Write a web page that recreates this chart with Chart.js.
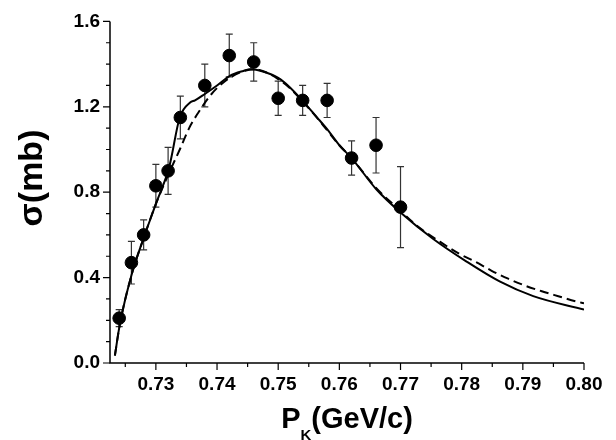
<!DOCTYPE html>
<html><head><meta charset="utf-8">
<script src="https://cdn.jsdelivr.net/npm/chart.js@4.4.0/dist/chart.umd.min.js"></script>
<style>html,body{margin:0;padding:0;background:#fff}canvas{display:block}</style>
</head><body>
<canvas id="c" width="616" height="440"></canvas>
<script>
// Measured data points (P_K in GeV/c, sigma in mb) with symmetric errors
const pointX = [0.724, 0.726, 0.728, 0.730, 0.732, 0.734, 0.738, 0.742, 0.746, 0.750, 0.754, 0.758, 0.762, 0.766, 0.770];
const pointY = [0.21, 0.47, 0.60, 0.83, 0.90, 1.15, 1.30, 1.44, 1.41, 1.24, 1.23, 1.23, 0.96, 1.02, 0.73];
const pointErr = [0.04, 0.10, 0.07, 0.10, 0.11, 0.10, 0.10, 0.10, 0.09, 0.08, 0.07, 0.08, 0.08, 0.13, 0.19];

// Solid theory curve
const solidX = [0.7233, 0.7241, 0.7260, 0.7280, 0.7300, 0.7322, 0.7339, 0.7356, 0.7364, 0.7380, 0.7400, 0.7421, 0.7443, 0.7455, 0.7475, 0.7500, 0.7518, 0.7540, 0.7563, 0.7580, 0.7600, 0.7620, 0.7660, 0.7700, 0.7753, 0.7808, 0.7862, 0.7917, 0.8000];
const solidY = [0.035, 0.18, 0.41, 0.585, 0.745, 0.92, 1.15, 1.22, 1.23, 1.26, 1.30, 1.345, 1.368, 1.376, 1.365, 1.335, 1.294, 1.228, 1.152, 1.095, 1.02, 0.96, 0.815, 0.705, 0.582, 0.475, 0.382, 0.313, 0.25];

// Dashed theory curve
const dashedX = [0.7233, 0.7241, 0.7260, 0.7280, 0.7300, 0.7320, 0.7340, 0.7354, 0.7369, 0.7391, 0.7413, 0.7437, 0.7460, 0.7480, 0.7500, 0.7520, 0.7540, 0.7563, 0.7580, 0.7600, 0.7620, 0.7660, 0.7700, 0.7726, 0.7765, 0.7795, 0.7822, 0.7849, 0.7876, 0.7904, 0.7931, 0.7958, 0.7988, 0.8000];
const dashedY = [0.035, 0.18, 0.41, 0.585, 0.745, 0.88, 1.006, 1.098, 1.171, 1.26, 1.32, 1.36, 1.376, 1.362, 1.33, 1.285, 1.225, 1.15, 1.09, 1.02, 0.96, 0.82, 0.713, 0.645, 0.567, 0.513, 0.475, 0.432, 0.395, 0.362, 0.336, 0.313, 0.288, 0.28];

// Ticks
const xTickValues = [0.725, 0.730, 0.735, 0.740, 0.745, 0.750, 0.755, 0.760, 0.765, 0.770, 0.775, 0.780, 0.785, 0.790, 0.795, 0.800];
const xLabelValues = [0.73, 0.74, 0.75, 0.76, 0.77, 0.78, 0.79, 0.80];
const xLabelTexts = ['0.73', '0.74', '0.75', '0.76', '0.77', '0.78', '0.79', '0.80'];
const yTickValues = [0.0, 0.1, 0.2, 0.3, 0.4, 0.5, 0.6, 0.7, 0.8, 0.9, 1.0, 1.1, 1.2, 1.3, 1.4, 1.5, 1.6];
const yLabelValues = [0.0, 0.4, 0.8, 1.2, 1.6];
const yLabelTexts = ['0.0', '0.4', '0.8', '1.2', '1.6'];

const xTitleMain = 'P';
const xTitleSub = 'K';
const xTitleRest = '(GeV/c)';
const yTitle = 'σ(mb)';

const FONT = '"Liberation Sans", Arial, sans-serif';

function labelFor(v, vals, texts) {
  for (let i = 0; i < vals.length; i++) if (Math.abs(v - vals[i]) < 1e-6) return texts[i];
  return '';
}

const decorPlugin = {
  id: 'decor',
  beforeDatasetsDraw(chart) {
    const {ctx, scales: {x, y}} = chart;
    ctx.save();
    ctx.strokeStyle = '#333';
    ctx.lineWidth = 1.2;
    for (let i = 0; i < pointX.length; i++) {
      const px = x.getPixelForValue(pointX[i]);
      const t = y.getPixelForValue(pointY[i] + pointErr[i]);
      const b = y.getPixelForValue(pointY[i] - pointErr[i]);
      ctx.beginPath();
      ctx.moveTo(px, t); ctx.lineTo(px, b);
      ctx.moveTo(px - 3.5, t); ctx.lineTo(px + 3.5, t);
      ctx.moveTo(px - 3.5, b); ctx.lineTo(px + 3.5, b);
      ctx.stroke();
    }
    ctx.restore();
  },
  afterDraw(chart) {
    const {ctx, chartArea: a, scales: {x, y}} = chart;
    ctx.save();
    ctx.strokeStyle = '#000';
    ctx.lineWidth = 1.5;
    // axis lines
    ctx.beginPath();
    ctx.moveTo(a.left, a.top); ctx.lineTo(a.left, a.bottom); ctx.lineTo(a.right, a.bottom);
    ctx.stroke();
    // ticks
    ctx.lineWidth = 1.2;
    ctx.beginPath();
    xTickValues.forEach(v => {
      const px = x.getPixelForValue(v);
      const len = labelFor(v, xLabelValues, xLabelTexts) ? 7 : 4;
      ctx.moveTo(px, a.bottom); ctx.lineTo(px, a.bottom + len);
    });
    yTickValues.forEach(v => {
      const py = y.getPixelForValue(v);
      const len = labelFor(v, yLabelValues, yLabelTexts) ? 7 : 4;
      ctx.moveTo(a.left, py); ctx.lineTo(a.left - len, py);
    });
    ctx.stroke();
    // titles
    ctx.fillStyle = '#000';
    ctx.textBaseline = 'alphabetic';
    const fMain = 'bold 29px ' + FONT;
    const fSub = 'bold 15px ' + FONT;
    ctx.font = fMain; const wP = ctx.measureText(xTitleMain).width; const wR = ctx.measureText(xTitleRest).width;
    ctx.font = fSub; const wK = ctx.measureText(xTitleSub).width;
    const total = wP + wK + wR;
    let sx = (a.left + a.right) / 2 - total / 2;
    const base = 428;
    ctx.textAlign = 'left';
    ctx.font = fMain; ctx.fillText(xTitleMain, sx, base); sx += wP;
    ctx.font = fSub; ctx.fillText(xTitleSub, sx, base + 12); sx += wK;
    ctx.font = fMain; ctx.fillText(xTitleRest, sx, base);
    // y title
    ctx.translate(33, 178);
    ctx.rotate(-Math.PI / 2);
    ctx.textAlign = 'center';
    ctx.textBaseline = 'middle';
    ctx.font = 'bold 34px ' + FONT;
    ctx.fillText(yTitle, 0, 0);
    ctx.restore();
  }
};

new Chart(document.getElementById('c'), {
  type: 'scatter',
  data: {
    datasets: [
      {
        data: pointX.map((v, i) => ({x: v, y: pointY[i]})),
        backgroundColor: '#000', borderColor: '#000',
        pointRadius: 6.3, pointHoverRadius: 6.3, showLine: false, order: 0
      },
      {
        data: solidX.map((v, i) => ({x: v, y: solidY[i]})),
        showLine: true, borderColor: '#000', borderWidth: 2, pointRadius: 0,
        cubicInterpolationMode: 'monotone', fill: false, order: 1
      },
      {
        data: dashedX.map((v, i) => ({x: v, y: dashedY[i]})),
        showLine: true, borderColor: '#000', borderWidth: 2, pointRadius: 0,
        borderDash: [9, 5], cubicInterpolationMode: 'monotone', fill: false, order: 2
      }
    ]
  },
  options: {
    responsive: false, animation: false, devicePixelRatio: 1,
    layout: {padding: {top: 17, right: 32, left: 0, bottom: 0}},
    plugins: {legend: {display: false}, tooltip: {enabled: false}},
    scales: {
      x: {
        type: 'linear', min: 0.7225, max: 0.80,
        afterFit(s) { s.height = 77; },
        afterBuildTicks(s) { s.ticks = xTickValues.map(v => ({value: v})); },
        grid: {display: false, drawTicks: false},
        border: {display: false},
        ticks: {
          autoSkip: false, maxRotation: 0, minRotation: 0, padding: 10, color: '#000',
          font: {family: FONT, size: 19, weight: 'bold'},
          callback: (v) => labelFor(v, xLabelValues, xLabelTexts)
        }
      },
      y: {
        type: 'linear', min: 0, max: 1.6,
        afterFit(s) { s.width = 110; },
        afterBuildTicks(s) { s.ticks = yTickValues.map(v => ({value: v})); },
        grid: {display: false, drawTicks: false},
        border: {display: false},
        ticks: {
          autoSkip: false, padding: 10, color: '#000',
          font: {family: FONT, size: 19, weight: 'bold'},
          callback: (v) => labelFor(v, yLabelValues, yLabelTexts)
        }
      }
    }
  },
  plugins: [decorPlugin]
});
</script>
</body></html>
